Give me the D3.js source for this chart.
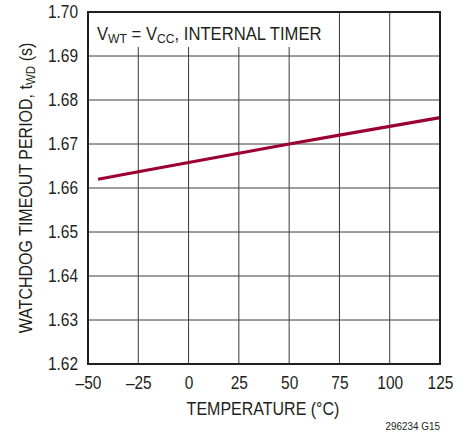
<!DOCTYPE html>
<html><head><meta charset="utf-8">
<script src="https://cdn.jsdelivr.net/npm/d3@7"></script>
<style>body{margin:0;background:#fff}svg{display:block}text{font-family:"Liberation Sans",Arial,sans-serif;fill:#231f20}</style>
</head><body><svg id="c" width="471" height="434"></svg>
<script>
const temps = [-45, -25, 0, 25, 50, 75, 100, 125];
const period = [1.662, 1.6637, 1.6658, 1.6679, 1.670, 1.672, 1.674, 1.676];
const xTicks = [-50, -25, 0, 25, 50, 75, 100, 125];
const yTicks = [1.62, 1.63, 1.64, 1.65, 1.66, 1.67, 1.68, 1.69, 1.70];

const SX = 0.86, FS = 18;
const svg = d3.select("#c");
const L = 88, R = 440, T = 12, B = 364;
const x = d3.scaleLinear().domain([-50, 125]).range([L, R]);
const y = d3.scaleLinear().domain([1.62, 1.70]).range([B, T]);

function ctext(px, py, rot, sx) {
  return svg.append("g").attr("transform", `translate(${px},${py})` + (rot ? ` rotate(${rot})` : "") + ` scale(${sx || SX},1)`)
    .append("text").attr("font-size", FS);
}

const g = svg.append("g");
g.selectAll(".vg").data(xTicks.slice(1, -1)).join("line")
  .attr("x1", d => x(d)).attr("x2", d => x(d)).attr("y1", T).attr("y2", B)
  .attr("stroke", "#3a3a3a").attr("stroke-width", 1);
g.selectAll(".hg").data(yTicks.slice(1, -1)).join("line")
  .attr("y1", d => y(d)).attr("y2", d => y(d)).attr("x1", L).attr("x2", R)
  .attr("stroke", "#3a3a3a").attr("stroke-width", 1);

// label box
svg.append("rect").attr("x", L + 1).attr("y", T + 1).attr("width", 240).attr("height", 34).attr("fill", "#fff");
const lab = ctext(97, 40, 0, 0.9).attr("font-size", 18.5);
lab.append("tspan").text("V");
lab.append("tspan").text("WT").attr("font-size", 13.5).attr("dy", 3);
lab.append("tspan").text(" = V").attr("dy", -3);
lab.append("tspan").text("CC").attr("font-size", 13.5).attr("dy", 3);
lab.append("tspan").text(", INTERNAL TIMER").attr("dy", -3);

const line = d3.line().x((d, i) => x(temps[i])).y(d => y(d));
svg.append("path").datum(period).attr("d", line).attr("fill", "none")
  .attr("stroke", "#9b0033").attr("stroke-width", 3.2);

svg.append("rect").attr("x", L).attr("y", T).attr("width", R - L).attr("height", B - T)
  .attr("fill", "none").attr("stroke", "#231f20").attr("stroke-width", 2);

const xa = svg.append("g").attr("transform", `translate(0,${B})`)
  .call(d3.axisBottom(x).tickValues(xTicks).tickSize(0).tickPadding(0)
    .tickFormat(d => d < 0 ? "\u2013" + Math.abs(d) : d));
xa.select(".domain").remove();
xa.selectAll("text").attr("font-size", FS).attr("font-family", '"Liberation Sans",Arial,sans-serif')
  .attr("fill", "#231f20").attr("y", 25).attr("dy", null).attr("transform", `scale(${SX},1)`);

const ya = svg.append("g").attr("transform", `translate(${L},0)`)
  .call(d3.axisLeft(y).tickValues(yTicks).tickSize(0).tickPadding(0).tickFormat(d3.format(".2f")));
ya.select(".domain").remove();
ya.selectAll("text").attr("font-size", FS).attr("font-family", '"Liberation Sans",Arial,sans-serif')
  .attr("fill", "#231f20").attr("x", -10 / SX).attr("transform", `scale(${SX},1)`);

ctext(263, 415, 0, 0.89).text("TEMPERATURE (°C)").attr("text-anchor", "middle");

const yl = ctext(32, (T + B) / 2, -90, 0.89).attr("text-anchor", "middle");
yl.append("tspan").text("WATCHDOG TIMEOUT PERIOD, t");
yl.append("tspan").text("WD").attr("font-size", 13).attr("dy", 3);
yl.append("tspan").text(" (s)").attr("dy", -3);

ctext(440, 430).attr("text-anchor", "end").attr("font-size", 11.5).text("296234 G15");
</script></body></html>
